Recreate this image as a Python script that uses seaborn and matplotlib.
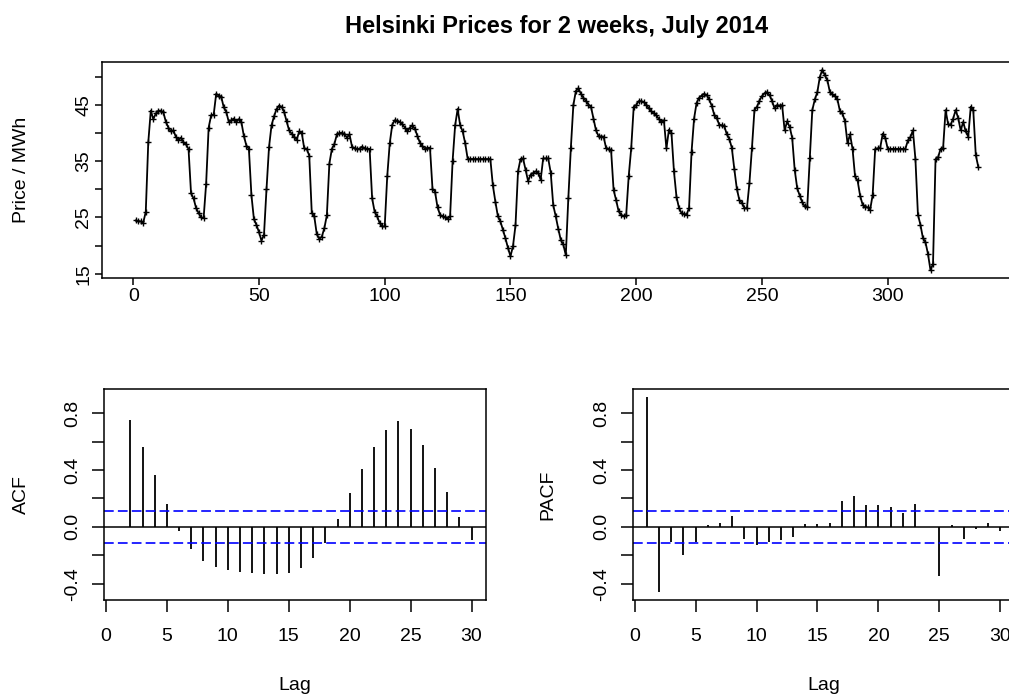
import matplotlib
matplotlib.use("Agg")
import matplotlib.pyplot as plt
import numpy as np
import pandas as pd
import seaborn as sns

# ---------------- data ----------------
hours = list(range(1, 337))
price = [
    24.5, 24.3, 24.3, 24.1, 26.0, 38.4, 44.0, 42.5, 43.5, 44.0, 44.0, 43.7, 42.0, 41.0, 40.3, 40.5, 39.3, 38.8, 39.2, 38.4, 38.0, 37.2, 29.3, 28.4,
    26.7, 25.8, 25.0, 24.9, 31.0, 41.0, 43.2, 43.3, 47.0, 46.7, 46.5, 44.6, 43.8, 42.0, 42.3, 42.6, 42.0, 42.5, 42.0, 39.5, 37.8, 37.2, 29.0, 24.7,
    23.7, 22.4, 20.9, 21.9, 30.0, 37.5, 41.4, 43.0, 44.3, 44.9, 44.7, 43.8, 42.1, 40.5, 39.9, 39.4, 38.8, 40.3, 40.1, 37.3, 37.2, 36.0, 25.8, 25.2,
    22.0, 21.2, 21.6, 23.1, 25.4, 34.6, 37.2, 38.1, 39.8, 40.0, 40.1, 39.8, 39.2, 39.8, 37.6, 37.3, 37.2, 37.2, 37.6, 37.3, 37.2, 37.2, 28.4, 26.0,
    25.2, 24.0, 23.4, 23.4, 32.3, 38.2, 41.5, 42.3, 42.2, 42.0, 41.6, 41.0, 40.3, 41.0, 41.4, 40.8, 39.5, 38.3, 37.7, 37.2, 37.4, 37.4, 30.1, 29.6,
    26.8, 25.5, 25.2, 25.0, 24.7, 25.2, 35.1, 41.4, 44.3, 41.4, 40.3, 38.2, 35.4, 35.4, 35.4, 35.4, 35.4, 35.4, 35.4, 35.4, 35.4, 35.4, 30.7, 27.8,
    25.2, 24.3, 22.8, 21.3, 19.6, 18.1, 19.9, 23.6, 33.2, 35.4, 35.5, 33.5, 31.5, 32.6, 32.9, 33.2, 33.0, 31.7, 35.5, 35.5, 35.5, 33.0, 27.2, 25.2,
    23.0, 21.0, 20.2, 18.3, 28.4, 37.3, 45.0, 47.5, 48.0, 47.0, 46.3, 45.7, 45.1, 44.7, 42.6, 40.5, 39.5, 39.4, 39.4, 37.4, 37.2, 37.0, 29.9, 28.1,
    26.1, 25.5, 25.2, 25.4, 32.3, 37.3, 44.7, 45.0, 45.7, 45.7, 45.5, 45.1, 44.4, 43.9, 43.5, 43.2, 42.5, 42.0, 42.3, 37.3, 40.6, 40.1, 33.2, 28.7,
    26.7, 25.8, 25.6, 25.5, 26.7, 36.7, 42.6, 45.4, 46.3, 46.7, 47.0, 46.8, 46.0, 44.9, 43.3, 42.7, 41.5, 41.4, 41.3, 39.8, 39.0, 37.4, 33.6, 30.1,
    28.1, 27.6, 26.7, 26.6, 31.1, 37.3, 44.1, 44.7, 45.8, 46.6, 47.1, 47.3, 46.8, 45.7, 44.4, 45.0, 44.9, 45.0, 40.5, 42.1, 41.1, 39.2, 33.5, 30.2,
    28.9, 27.7, 27.0, 26.9, 35.5, 44.1, 46.0, 47.3, 50.0, 51.3, 50.3, 49.4, 47.3, 46.9, 46.6, 46.0, 43.9, 43.5, 42.1, 38.2, 39.8, 37.2, 32.3, 31.6,
    28.9, 27.3, 26.9, 26.8, 26.4, 29.0, 37.2, 37.3, 37.4, 39.9, 39.2, 37.2, 37.2, 37.2, 37.2, 37.2, 37.2, 37.2, 37.2, 38.7, 39.3, 40.5, 35.4, 25.5,
    23.7, 21.3, 20.6, 18.5, 15.6, 16.8, 35.4, 35.7, 37.2, 37.3, 44.1, 41.6, 41.5, 42.6, 44.1, 42.7, 40.5, 42.0, 40.3, 39.4, 44.7, 44.1, 36.1, 34.0,
]

acf_lags = list(range(2, 31))
acf_vals = [0.753, 0.562, 0.362, 0.163, -0.028, -0.156, -0.243, -0.285, -0.303, -0.315,
            -0.324, -0.334, -0.334, -0.324, -0.292, -0.219, -0.110, 0.058, 0.236, 0.408,
            0.562, 0.681, 0.744, 0.690, 0.576, 0.415, 0.245, 0.068, -0.091]

pacf_lags = list(range(1, 31))
pacf_vals = [0.912, -0.459, -0.105, -0.196, -0.107, 0.014, 0.026, 0.077, -0.082, -0.124,
             -0.107, -0.091, -0.070, 0.023, 0.023, 0.026, 0.184, 0.215, 0.152, 0.152,
             0.142, 0.100, 0.163, 0.0, -0.348, 0.014, -0.082, -0.016, 0.026, -0.028]

conf_level = 0.11

title = "Helsinki Prices for 2 weeks, July 2014"
top_xticks = [0, 50, 100, 150, 200, 250, 300]
top_yticks = [15, 20, 25, 30, 35, 40, 45, 50]
top_ylabels = ["15", "", "25", "", "35", "", "45", ""]
cf_yticks = [-0.4, -0.2, 0.0, 0.2, 0.4, 0.6, 0.8]
cf_ylabels = ["-0.4", "", "0.0", "", "0.4", "", "0.8"]
cf_xticks = [0, 5, 10, 15, 20, 25, 30]

# ---------------- style ----------------
sns.set_style("ticks")
plt.rcParams['font.family'] = ['Liberation Sans', 'DejaVu Sans']
plt.rcParams['lines.scale_dashes'] = False
plt.rcParams['axes.edgecolor'] = 'black'
plt.rcParams['axes.linewidth'] = 1.1
plt.rcParams['text.color'] = 'black'
plt.rcParams['axes.labelcolor'] = 'black'
plt.rcParams['xtick.color'] = 'black'
plt.rcParams['ytick.color'] = 'black'
plt.rcParams['xtick.labelcolor'] = 'black'
plt.rcParams['ytick.labelcolor'] = 'black'

W, H = 1009, 695
fig = plt.figure(figsize=(W / 100, H / 100), dpi=100)
fig.patch.set_facecolor('white')


def ax_px(l, t, r, b):
    return fig.add_axes([l / W, 1 - b / H, (r - l) / W, (b - t) / H])


FS = 14

# ---------------- top: time series ----------------
ax1 = ax_px(102, 61.5, 1012, 278.2)
df = pd.DataFrame({"hour": hours, "price": price})
sns.lineplot(data=df, x="hour", y="price", ax=ax1, color="black", linewidth=1.3,
             marker="+", markersize=5, markeredgewidth=1.0, markeredgecolor="black")
ax1.set_xlim(-12.4, 349.4)
ax1.set_ylim(14.2, 52.75)
ax1.set_xticks(top_xticks)
ax1.set_xticklabels([str(v) for v in top_xticks])
ax1.set_yticks(top_yticks)
ax1.set_yticklabels(top_ylabels, rotation=90, va="center")
ax1.set_xlabel("")
ax1.set_ylabel("")
ax1.tick_params(direction="out", length=5, width=1.1, color="black", labelsize=FS, pad=2)
fig.text(557 / W, 1 - 27 / H, title, ha="center", va="center", fontsize=17, fontweight="bold")
fig.text(22 / W, 1 - 170 / H, "Price / MWh", rotation=90, ha="center", va="center", fontsize=FS)


# ---------------- ACF / PACF ----------------
def corr_panel(l, lags, vals, ylabel, label_x):
    ax = ax_px(l, 389.3, l + 381.7, 600)
    ax.vlines(lags, 0, vals, color="black", linewidth=1.3)
    ax.axhline(0, color="black", linewidth=1.1)
    for c in (conf_level, -conf_level):
        ax.axhline(c, color="#0000FF", linewidth=1.2, dashes=(7, 3))
    ax.set_xlim(-0.16, 31.16)
    ax.set_ylim(-0.514, 0.967)
    ax.set_xticks(cf_xticks)
    ax.set_xticklabels([str(v) for v in cf_xticks])
    ax.set_yticks(cf_yticks)
    ax.set_yticklabels(cf_ylabels, rotation=90, va="center")
    ax.tick_params(axis="x", direction="out", length=8.5, width=1.1, color="black", labelsize=FS, pad=12)
    ax.tick_params(axis="y", direction="out", length=8.5, width=1.1, color="black", labelsize=FS, pad=8)
    fig.text(label_x / W, 1 - 494.7 / H, ylabel, rotation=90, ha="center", va="center", fontsize=FS)
    fig.text((l + 381.7 / 2) / W, 1 - 690 / H, "Lag", ha="center", va="baseline", fontsize=FS)
    return ax


corr_panel(104, acf_lags, acf_vals, "ACF", 21)
corr_panel(632.7, pacf_lags, pacf_vals, "PACF", 548.3)

fig.savefig("out.png", dpi=100)
